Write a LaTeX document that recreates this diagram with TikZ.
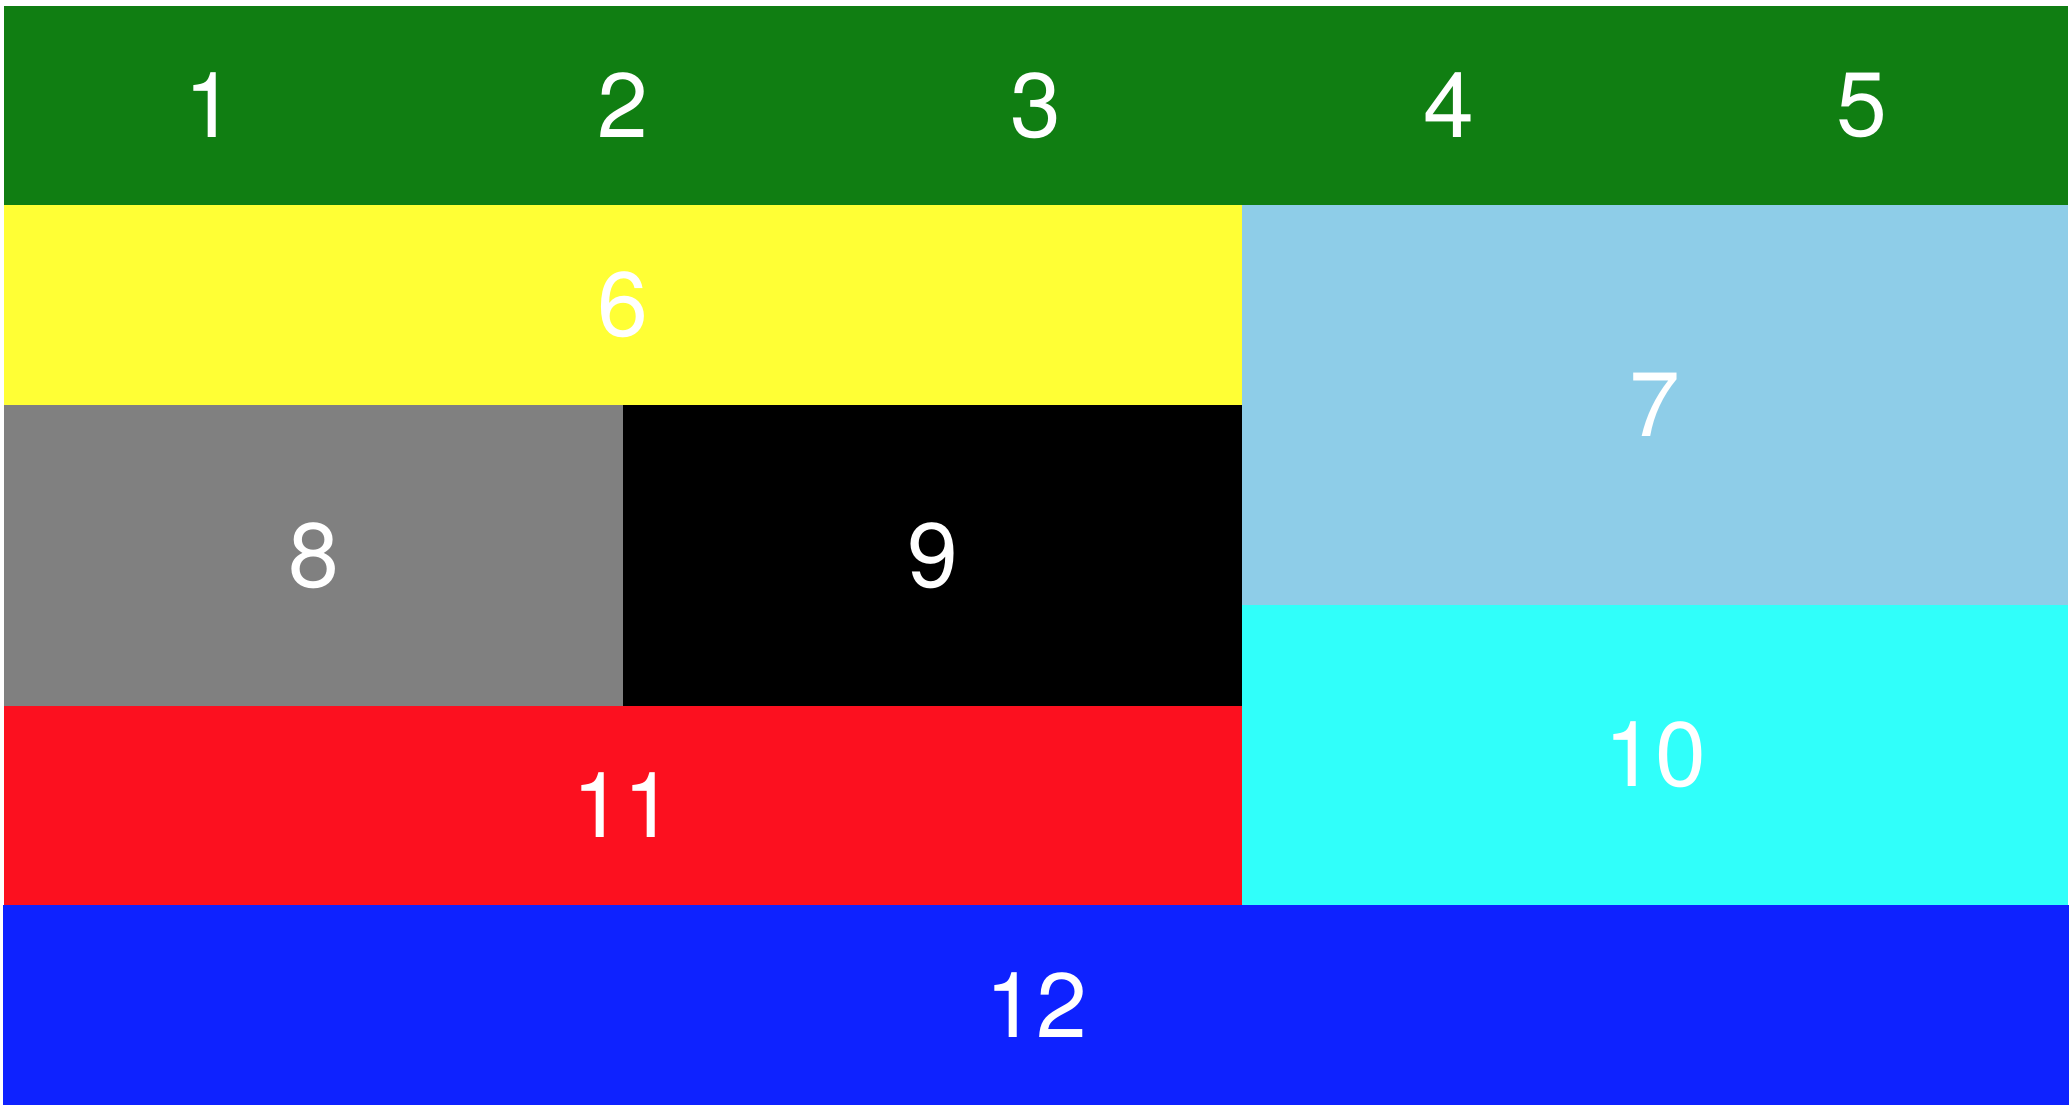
\documentclass[tikz,border=0pt]{standalone}
\usepackage{fontspec}
\setmainfont{TeX Gyre Heros}
\usepackage{tikz}
\definecolor{boxgreen}{RGB}{16,126,18}
\definecolor{boxyellow}{RGB}{255,255,53}
\definecolor{boxsky}{RGB}{142,205,232}
\definecolor{boxgray}{RGB}{128,128,128}
\definecolor{boxcyan}{RGB}{48,255,250}
\definecolor{boxred}{RGB}{252,16,31}
\definecolor{boxblue}{RGB}{14,34,255}
\tikzset{
  cell/.style={rectangle, inner sep=0pt, outer sep=0pt, text=white,
               font=\fontsize{26}{31}\selectfont},
}
\begin{document}
\begin{tikzpicture}[x=0.01cm, y=-0.01cm]
  \useasboundingbox[fill=white] (0,0) rectangle (2072,1114);

  % ---- header row ----------------------------------------------------------
  \foreach \i in {1,...,5} {
    \node[cell, fill=boxgreen, minimum width=4.128cm, minimum height=1.99cm]
      (top\i) at ({4+206.4+412.8*(\i-1)},105.5) {\i};
  }

  % ---- body ----------------------------------------------------------------
  \node[cell, fill=boxyellow, minimum width=12.38cm, minimum height=2.0cm]
    (six) at (623,305) {6};
  \node[cell, fill=boxsky, minimum width=8.26cm, minimum height=4.0cm]
    (seven) at (1655,405) {7};
  \node[cell, fill=boxgray, minimum width=6.19cm, minimum height=3.01cm]
    (eight) at (313.5,555.5) {8};
  \node[cell, fill=black, minimum width=6.19cm, minimum height=3.01cm]
    (nine) at (932.5,555.5) {9};
  \node[cell, fill=boxcyan, minimum width=8.26cm, minimum height=3.0cm]
    (ten) at (1655,755) {10};
  \node[cell, fill=boxred, minimum width=12.38cm, minimum height=1.99cm]
    (eleven) at (623,805.5) {11};

  % ---- footer --------------------------------------------------------------
  \node[cell, fill=boxblue, minimum width=20.64cm, minimum height=2.0cm]
    (twelve) at (1036,1005) {12};
\end{tikzpicture}
\end{document}
